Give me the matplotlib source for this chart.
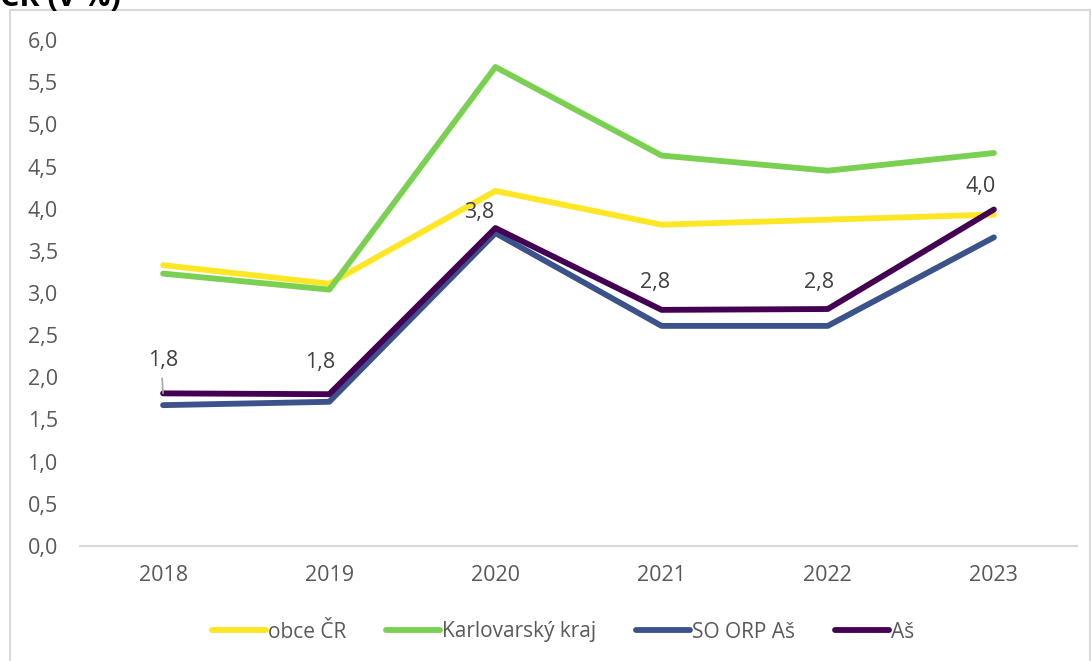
import matplotlib
matplotlib.use("Agg")
import matplotlib.pyplot as plt
from matplotlib.patches import Rectangle

plt.rcParams["font.family"] = ["Open Sans", "DejaVu Sans"]

years = ["2018", "2019", "2020", "2021", "2022", "2023"]
obce_cr = [3.33, 3.11, 4.21, 3.81, 3.87, 3.93]
karlovarsky = [3.23, 3.04, 5.68, 4.63, 4.45, 4.66]
so_orp_as = [1.67, 1.71, 3.71, 2.61, 2.61, 3.66]
as_values = [1.81, 1.80, 3.77, 2.80, 2.81, 3.99]
as_labels = ["1,8", "1,8", "3,8", "2,8", "2,8", "4,0"]

series = [
    ("obce ČR", obce_cr, "#FDE725"),
    ("Karlovarský kraj", karlovarsky, "#7AD151"),
    ("SO ORP Aš", so_orp_as, "#3B528B"),
    ("Aš", as_values, "#440154"),
]

# label offsets in pixels (dx, dy) relative to the point
label_offsets = [(0, 33), (-9, 32), (-16, 16), (-7, 27), (-9, 27), (-13, 23)]

W, H = 1091, 661
fig = plt.figure(figsize=(W / 100, H / 100), dpi=100)

# chart frame
fig.patches.append(Rectangle((10 / W, -0.05), (W - 11) / W, 1.05 - 10 / H,
                             transform=fig.transFigure, fill=False,
                             edgecolor="#D9D9D9", linewidth=1.5))

# title, cropped at the very top as in the source image
fig.text(0.0, 1 - 6 / H, "ČR (v %)", fontsize=22, fontweight="bold",
         color="black", ha="left", va="baseline")

ax = fig.add_axes([80 / W, 1 - 546 / H, (1077 - 80) / W, (546 - 40) / H])
x = list(range(len(years)))

for name, vals, color in series:
    ax.plot(x, vals, color=color, linewidth=4.2, label=name,
            solid_capstyle="round", solid_joinstyle="round")

for i, (val, lab) in enumerate(zip(as_values, as_labels)):
    dx, dy = label_offsets[i]
    ax.annotate(lab, (i, val), xytext=(dx, dy), textcoords="offset pixels",
                ha="center", va="center", fontsize=15.5, color="#404040")

# leader line for the first label
ax.annotate("", (0, as_values[0]), xytext=(-1, 15), textcoords="offset pixels",
            arrowprops=dict(arrowstyle="-", color="#A6A6A6", lw=1.2,
                            shrinkA=0, shrinkB=0))

ax.set_xlim(-0.5, len(years) - 0.5)
ax.set_ylim(0, 6)
ax.set_xticks(x)
ax.set_xticklabels(years)
yt = [i * 0.5 for i in range(13)]
ax.set_yticks(yt)
ax.set_yticklabels([f"{v:.1f}".replace(".", ",") for v in yt])
ax.tick_params(axis="both", length=0, labelsize=15.5, labelcolor="#595959")
ax.tick_params(axis="y", pad=16)
ax.tick_params(axis="x", pad=14)
for s in ["top", "right", "left"]:
    ax.spines[s].set_visible(False)
ax.spines["bottom"].set_color("#D9D9D9")
ax.spines["bottom"].set_linewidth(1.5)

leg = fig.legend(loc="center", bbox_to_anchor=(563 / W, 1 - 632 / H), ncol=4,
                 frameon=False, fontsize=15, handlelength=2.6,
                 handletextpad=0.1, columnspacing=1.9)
for t in leg.get_texts():
    t.set_color("#595959")

fig.savefig("out.png", dpi=100)
